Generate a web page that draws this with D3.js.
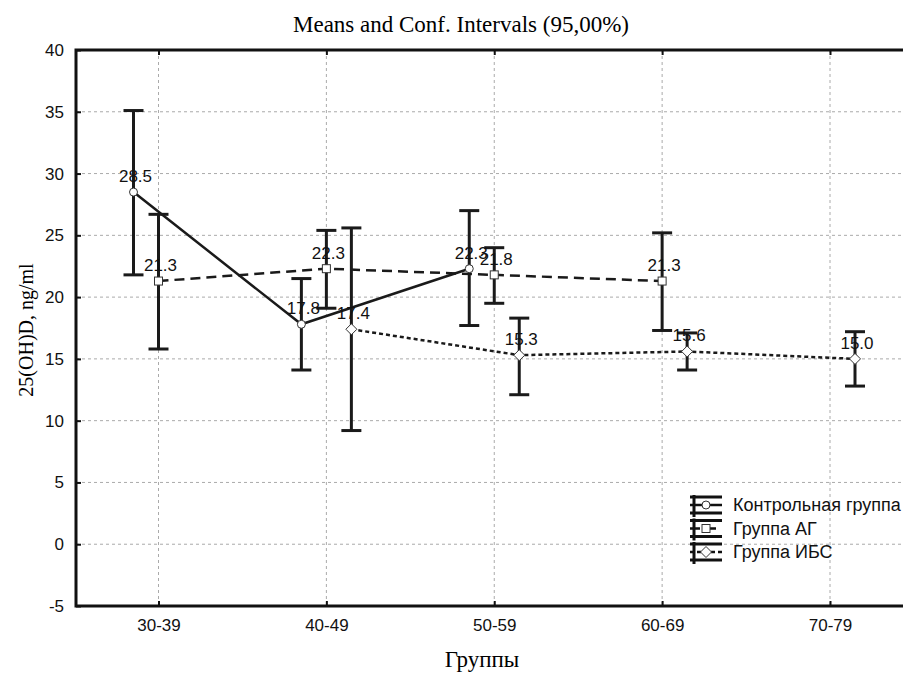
<!DOCTYPE html>
<html>
<head>
<meta charset="utf-8">
<script src="https://cdn.jsdelivr.net/npm/d3@7"></script>
<style>
  body { margin: 0; background: #fff; }
  svg { display: block; }
</style>
</head>
<body>
<div id="chart"></div>
<script>
// Chart data
const categories = ["30-39", "40-49", "50-59", "60-69", "70-79"];
const seriesNames = ["Контрольная группа", "Группа АГ", "Группа ИБС"];

const controlMean = [28.5, 17.8, 22.3, null, null];
const controlLow  = [21.8, 14.1, 17.7, null, null];
const controlHigh = [35.1, 21.5, 27.0, null, null];

const agMean = [21.3, 22.3, 21.8, 21.3, null];
const agLow  = [15.8, 19.1, 19.5, 17.3, null];
const agHigh = [26.7, 25.4, 24.0, 25.2, null];

const ibsMean = [null, 17.4, 15.3, 15.6, 15.0];
const ibsLow  = [null, 9.2, 12.1, 14.1, 12.8];
const ibsHigh = [null, 25.6, 18.3, 17.1, 17.2];

const yTicks = [-5, 0, 5, 10, 15, 20, 25, 30, 35, 40];

const width = 903, height = 673;
const plotLeft = 76, plotTop = 50, plotBottom = 606, plotRight = 912;

const svg = d3.select("#chart").append("svg")
    .attr("width", width)
    .attr("height", height);

const x = d3.scalePoint().domain(categories).range([158.5, 830]);
const y = d3.scaleLinear().domain([-5, 40]).range([plotBottom, plotTop]);

// Series definitions (style + x offset)
const series = [
    { name: seriesNames[0], mean: controlMean, low: controlLow, high: controlHigh, dx: -25, dash: null, marker: "circle" },
    { name: seriesNames[1], mean: agMean, low: agLow, high: agHigh, dx: 0, dash: "10,6", marker: "square" },
    { name: seriesNames[2], mean: ibsMean, low: ibsLow, high: ibsHigh, dx: 25, dash: "4,3", marker: "diamond" }
];

// Gridlines
svg.append("g").selectAll("line")
    .data(yTicks.filter(t => t > -5 && t < 40))
    .enter().append("line")
    .attr("x1", plotLeft).attr("x2", plotRight)
    .attr("y1", d => y(d)).attr("y2", d => y(d))
    .style("stroke", "#aaa").style("stroke-width", 1)
    .style("stroke-dasharray", "3,3");

svg.append("g").selectAll("line")
    .data(categories)
    .enter().append("line")
    .attr("x1", d => x(d)).attr("x2", d => x(d))
    .attr("y1", plotTop).attr("y2", plotBottom)
    .style("stroke", "#aaa").style("stroke-width", 1)
    .style("stroke-dasharray", "3,3");

// Axes using d3 axis generators, inward ticks
const yAxis = svg.append("g")
    .attr("transform", `translate(${plotLeft},0)`)
    .call(d3.axisLeft(y).tickValues(yTicks).tickSize(-5).tickPadding(12).tickFormat(d => String(d)));
const xAxis = svg.append("g")
    .attr("transform", `translate(0,${plotBottom})`)
    .call(d3.axisBottom(x).tickSize(-5).tickPadding(13));
const xTop = svg.append("g")
    .attr("transform", `translate(0,${plotTop})`)
    .call(d3.axisTop(x).tickSize(-5).tickFormat(""));

[yAxis, xAxis, xTop].forEach(g => {
    g.select(".domain").remove();
    g.selectAll(".tick line").style("stroke", "#111").style("stroke-width", 2);
    g.selectAll("text")
        .style("font-family", "Arial, 'Liberation Sans', sans-serif")
        .style("font-size", "17px")
        .style("fill", "#111");
});

// Frame
svg.append("path")
    .attr("d", `M${plotRight},${plotTop}H${plotLeft}V${plotBottom}H${plotRight}`)
    .style("fill", "none").style("stroke", "#111").style("stroke-width", 3);

// Lines
const line = d3.line()
    .defined(d => d.v !== null)
    .x(d => x(d.c) + d.dx)
    .y(d => y(d.v));

series.forEach(s => {
    const pts = categories.map((c, i) => ({ c: c, v: s.mean[i], dx: s.dx }));
    svg.append("path")
        .datum(pts)
        .attr("d", line)
        .style("fill", "none")
        .style("stroke", "#1a1a1a")
        .style("stroke-width", 2.5)
        .style("stroke-dasharray", s.dash);
});

// Error bars
series.forEach(s => {
    const pts = categories.map((c, i) => ({ c: c, lo: s.low[i], hi: s.high[i], dx: s.dx }))
        .filter(d => d.lo !== null);
    const g = svg.append("g").style("stroke", "#1a1a1a").style("stroke-width", 3);
    g.selectAll(".v").data(pts).enter().append("line")
        .attr("x1", d => x(d.c) + d.dx).attr("x2", d => x(d.c) + d.dx)
        .attr("y1", d => y(d.hi)).attr("y2", d => y(d.lo));
    g.selectAll(".t").data(pts).enter().append("line")
        .attr("x1", d => x(d.c) + d.dx - 10).attr("x2", d => x(d.c) + d.dx + 10)
        .attr("y1", d => y(d.hi)).attr("y2", d => y(d.hi));
    g.selectAll(".b").data(pts).enter().append("line")
        .attr("x1", d => x(d.c) + d.dx - 10).attr("x2", d => x(d.c) + d.dx + 10)
        .attr("y1", d => y(d.lo)).attr("y2", d => y(d.lo));
});

// Markers
function drawMarker(g, type, cx, cy) {
    if (type === "circle") {
        g.append("circle").attr("cx", cx).attr("cy", cy).attr("r", 4);
    } else if (type === "square") {
        g.append("rect").attr("x", cx - 4).attr("y", cy - 4).attr("width", 8).attr("height", 8);
    } else {
        g.append("path").attr("d", `M${cx},${cy - 5.5}L${cx + 5.5},${cy}L${cx},${cy + 5.5}L${cx - 5.5},${cy}Z`);
    }
}

series.forEach(s => {
    const g = svg.append("g").style("fill", "#fff").style("stroke", "#333").style("stroke-width", 1);
    categories.forEach((c, i) => {
        if (s.mean[i] === null) return;
        drawMarker(g, s.marker, x(c) + s.dx, y(s.mean[i]));
    });
});

// Value labels
series.forEach(s => {
    svg.append("g").selectAll("text")
        .data(categories.map((c, i) => ({ c: c, v: s.mean[i], dx: s.dx })).filter(d => d.v !== null))
        .enter().append("text")
        .attr("x", d => x(d.c) + d.dx + 2)
        .attr("y", d => y(d.v) - 10)
        .attr("text-anchor", "middle")
        .style("font-family", "Arial, 'Liberation Sans', sans-serif")
        .style("font-size", "17px")
        .style("fill", "#111")
        .text(d => d3.format(".1f")(d.v));
});

// Titles
svg.append("text")
    .attr("x", 461).attr("y", 32)
    .attr("text-anchor", "middle")
    .style("font-family", "'Liberation Serif', 'Times New Roman', serif")
    .style("font-size", "23px")
    .text("Means and Conf. Intervals (95,00%)");

svg.append("text")
    .attr("x", 482).attr("y", 667)
    .attr("text-anchor", "middle")
    .style("font-family", "'Liberation Serif', 'Times New Roman', serif")
    .style("font-size", "23px")
    .text("Группы");

svg.append("text")
    .attr("transform", `translate(33,${(plotTop + plotBottom) / 2 + 2}) rotate(-90)`)
    .attr("text-anchor", "middle")
    .style("font-family", "'Liberation Serif', 'Times New Roman', serif")
    .style("font-size", "20px")
    .text("25(OH)D, ng/ml");

// Legend
const legend = svg.append("g");
series.forEach((s, i) => {
    const cy = 505 + i * 23.5;
    const lg = legend.append("g");
    lg.append("line").attr("x1", 690).attr("x2", 722).attr("y1", cy - 8).attr("y2", cy - 8)
        .style("stroke", "#111").style("stroke-width", 3);
    lg.append("line").attr("x1", 690).attr("x2", 722).attr("y1", cy + 8).attr("y2", cy + 8)
        .style("stroke", "#111").style("stroke-width", 3);
    lg.append("line").attr("x1", 694).attr("x2", 694).attr("y1", cy - 10).attr("y2", cy + 12)
        .style("stroke", "#111").style("stroke-width", 3);
    lg.append("line").attr("x1", 690).attr("x2", 722).attr("y1", cy).attr("y2", cy)
        .style("stroke", "#111").style("stroke-width", 2.5)
        .style("stroke-dasharray", s.dash);
    const mg = lg.append("g").style("fill", "#fff").style("stroke", "#333").style("stroke-width", 1);
    drawMarker(mg, s.marker, 706, cy);
    lg.append("text")
        .attr("x", 733).attr("y", cy + 6)
        .style("font-family", "Arial, 'Liberation Sans', sans-serif")
        .style("font-size", "18px")
        .style("fill", "#111")
        .text(s.name);
});
</script>
</body>
</html>
